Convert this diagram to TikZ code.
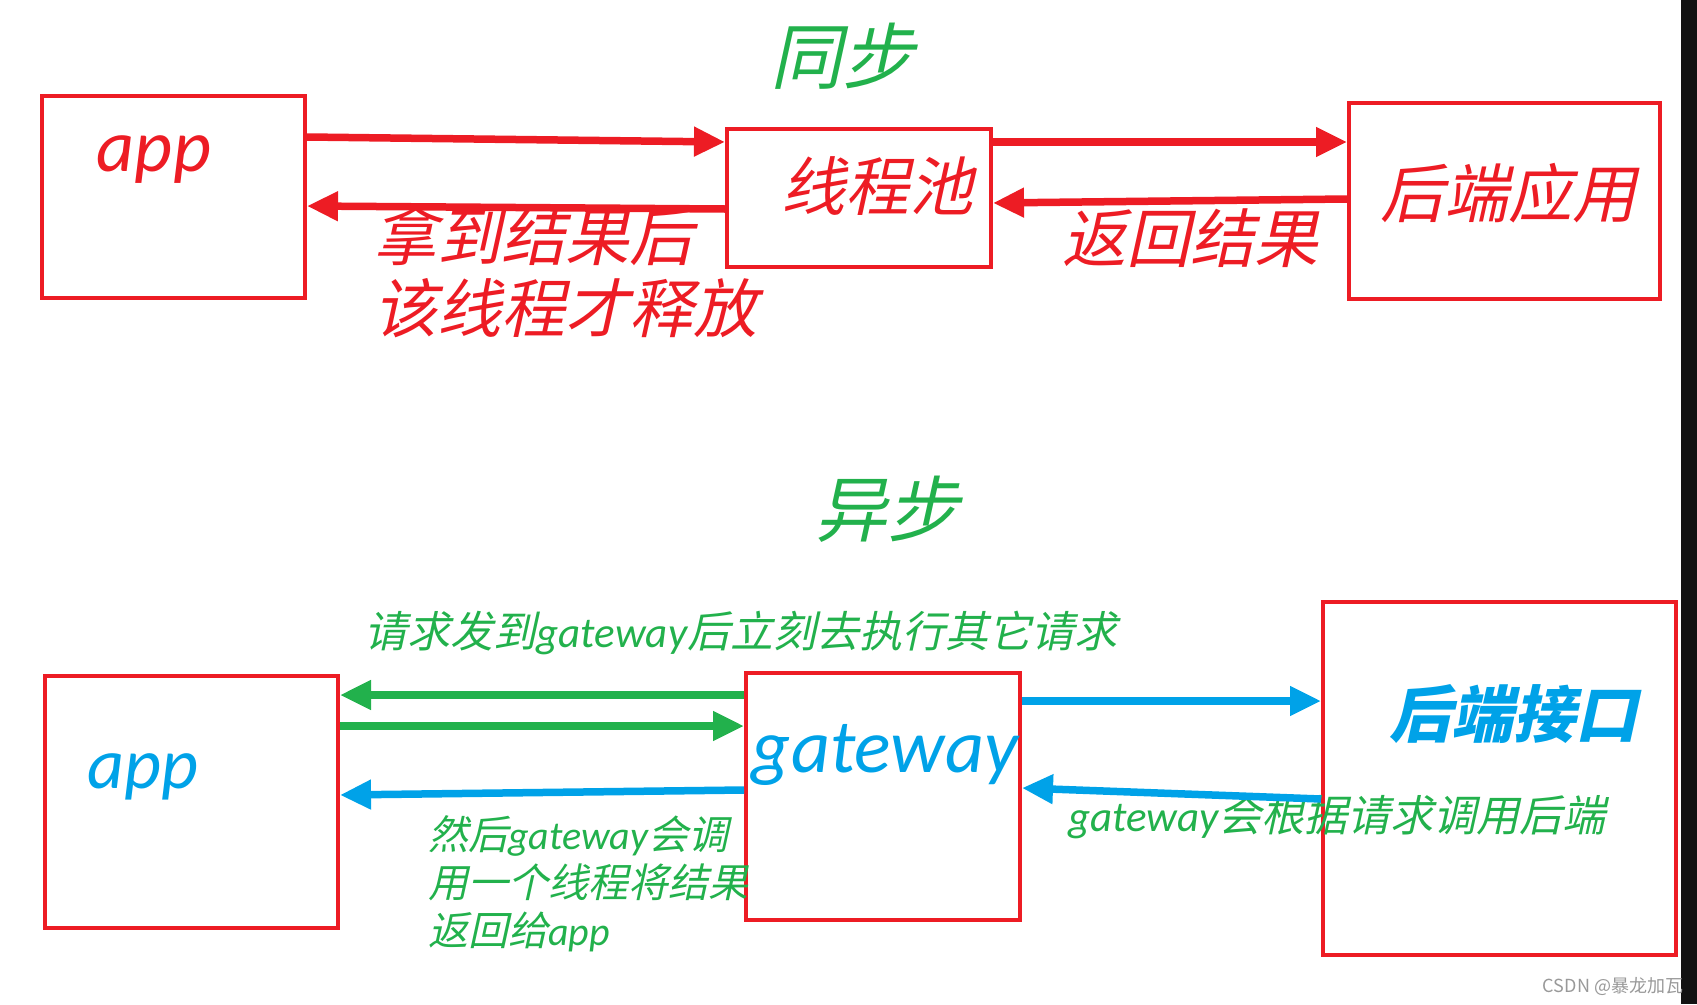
\documentclass[tikz,border=0pt]{standalone}
\usepackage{fontspec}
\usepackage{tikz}
\usetikzlibrary{arrows.meta}
\usetikzlibrary{positioning}
\newfontfamily\hand[FakeSlant=0.22]{Noto Sans CJK SC}
\newfontfamily\plain{Noto Sans CJK SC}
\newfontfamily\lat{Carlito}
\definecolor{pred}{HTML}{ED1C24}
\definecolor{pgreen}{HTML}{22B14C}
\definecolor{pblue}{HTML}{00A2E8}
\newcommand{\gw}{{\lat\itshape gateway}}
\newcommand{\ap}{{\lat\itshape app}}
\tikzstyle{box} = [rectangle, draw=pred, line width=4pt, inner sep=0]
\tikzstyle{redtxt} = [text=pred, inner sep=0]
\tikzstyle{greentxt} = [text=pgreen, inner sep=0]
\tikzstyle{bluetxt} = [text=pblue, inner sep=0]
\tikzstyle{redarrow} = [-{Triangle[length=31pt,width=28pt]}, draw=pred, line width=7.5pt]
\tikzstyle{greenarrow} = [-{Triangle[length=31pt,width=28pt]}, draw=pgreen, line width=7.5pt]
\tikzstyle{bluearrow} = [-{Triangle[length=31pt,width=28pt]}, draw=pblue, line width=7.5pt]

\begin{document}
\begin{tikzpicture}[x=1pt, y=-1pt]
\useasboundingbox (0,0) rectangle (1697,1004);
\fill [black!93] (1681,0) rectangle (1697,1004);

\node [greentxt, font=\hand\fontsize{72}{72}\selectfont] (sync) at (842,56) {同步};
\node [box, minimum width=263pt, minimum height=202pt] (app) at (173.5,197) {};
\node [box, minimum width=264pt, minimum height=138pt] (pool) at (859,198) {};
\node [box, minimum width=311pt, minimum height=196pt] (back) at (1504.5,201) {};
\node [redtxt, font=\fontsize{74}{74}\selectfont] (apptxt) at (154,160) {\ap};
\node [redtxt, font=\hand\fontsize{64}{64}\selectfont] (pooltxt) at (877,186) {线程池};
\node [redtxt, font=\hand\fontsize{64}{64}\selectfont] (backtxt) at (1508,193) {后端应用};
\node [redtxt, align=left, anchor=west, font=\hand\fontsize{64}{72}\selectfont] (release) at (373,272) {拿到结果后\\该线程才释放};
\node [redtxt, font=\hand\fontsize{64}{64}\selectfont] (result) at (1190,238) {返回结果};
\draw [redarrow] ([yshift=-43pt]app.north east) to ([yshift=-15pt]pool.north west);
\draw [redarrow] ([yshift=-82pt]pool.north west) to ([yshift=-112pt]app.north east);
\draw [redarrow] ([yshift=-15pt]pool.north east) to ([yshift=-41pt]back.north west);
\draw [redarrow] ([yshift=-98pt]back.north west) to ([yshift=-76pt]pool.north east);

\node [greentxt, font=\hand\fontsize{72}{72}\selectfont] (async) at (887,509) {异步};
\node [greentxt, font=\hand\fontsize{43}{43}\selectfont] (send) at (741,633) {请求发到\gw 后立刻去执行其它请求};
\node [box, minimum width=293pt, minimum height=252pt] (app2) at (191.5,802) {};
\node [box, minimum width=274pt, minimum height=247pt] (gate) at (883,796.5) {};
\node [box, minimum width=353pt, minimum height=353pt] (api) at (1499.5,778.5) {};
\node [bluetxt, font=\fontsize{72}{72}\selectfont] (app2txt) at (143,777) {\ap};
\node [bluetxt, font=\fontsize{76}{76}\selectfont] (gatetxt) at (885,755) {\gw};
\node [bluetxt, font=\hand\bfseries\fontsize{62}{62}\selectfont] (apitxt) at (1513,714) {后端接口};
\node [greentxt, font=\hand\fontsize{43}{43}\selectfont] (call) at (1337,817) {\gw 会根据请求调用后端};
\node [greentxt, align=left, anchor=west, font=\hand\fontsize{40}{48}\selectfont] (back2) at (428,884) {然后\gw 会调\\用一个线程将结果\\返回给\ap};
\draw [greenarrow] ([yshift=-24pt]gate.north west) to ([yshift=-21pt]app2.north east);
\draw [greenarrow] ([yshift=-52pt]app2.north east) to ([yshift=-55pt]gate.north west);
\draw [bluearrow] ([yshift=-119pt]gate.north west) to ([yshift=-121pt]app2.north east);
\draw [bluearrow] ([yshift=-30pt]gate.north east) to ([yshift=-101pt]api.north west);
\draw [bluearrow] ([yshift=-199pt]api.north west) to ([yshift=-117pt]gate.north east);

\node [text=black!40, inner sep=0, font=\plain\fontsize{18}{18}\selectfont] (csdn) at (1613,986) {CSDN @暴龙加瓦};
\end{tikzpicture}
\end{document}
